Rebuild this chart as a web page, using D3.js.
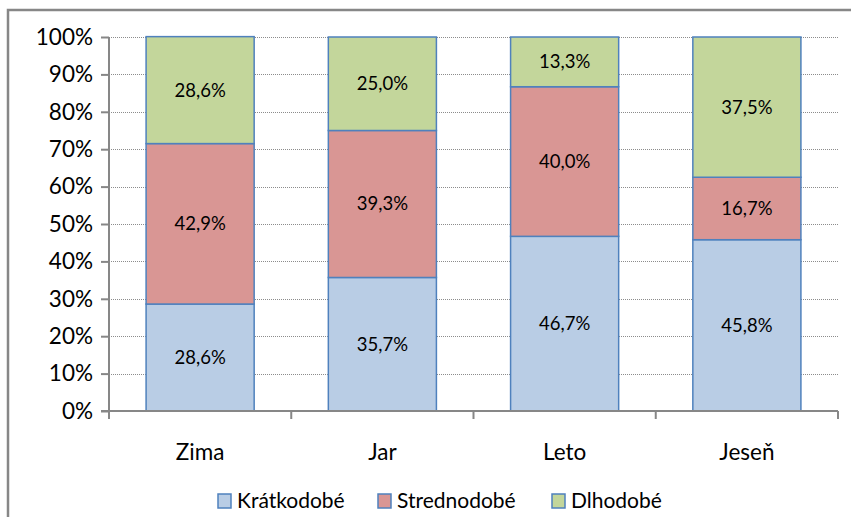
<!DOCTYPE html>
<html>
<head>
<meta charset="utf-8">
<script src="https://cdn.jsdelivr.net/npm/d3@7"></script>
<style>
  body { margin: 0; background: #fff; }
  svg text { font-family: Lato, "Open Sans", sans-serif; fill: #000; }
</style>
</head>
<body>
<div id="chart"></div>
<script>
var seasons = ["Zima", "Jar", "Leto", "Jeseň"];
var seriesNames = ["Krátkodobé", "Strednodobé", "Dlhodobé"];
var kratkodobe = [28.6, 35.7, 46.7, 45.8];
var strednodobe = [42.9, 39.3, 40.0, 16.7];
var dlhodobe = [28.6, 25.0, 13.3, 37.5];
var yTicks = [0, 10, 20, 30, 40, 50, 60, 70, 80, 90, 100];
var colors = ["#b9cde5", "#d99694", "#c3d69b"];

var width = 851, height = 517;
var margin = {top: 37, right: 13, bottom: 106, left: 109};

var svg = d3.select("#chart").append("svg")
    .attr("width", width)
    .attr("height", height);

// outer chart border
svg.append("rect")
    .attr("x", 8).attr("y", 10)
    .attr("width", width).attr("height", height)
    .attr("fill", "none")
    .attr("stroke", "#878787")
    .attr("stroke-width", 2.5);

var x = d3.scaleBand()
    .domain(seasons)
    .range([margin.left, width - margin.right]);

var y = d3.scaleLinear()
    .domain([0, 100])
    .range([height - margin.bottom, margin.top]);

// gridlines
svg.append("g")
    .selectAll("line")
    .data(yTicks.filter(function(d) { return d > 0; }))
    .enter().append("line")
    .attr("x1", margin.left)
    .attr("x2", width - margin.right)
    .attr("y1", function(d) { return Math.round(y(d)) + 0.5; })
    .attr("y2", function(d) { return Math.round(y(d)) + 0.5; })
    .attr("stroke", "#8c8c8c")
    .attr("stroke-width", 1)
    .attr("stroke-dasharray", "1,1");

var data = seasons.map(function(s, i) {
  return {season: s, "Krátkodobé": kratkodobe[i], "Strednodobé": strednodobe[i], "Dlhodobé": dlhodobe[i]};
});
var stacked = d3.stack().keys(seriesNames)(data);

var barW = x.bandwidth() * 0.593;

var layers = svg.append("g")
    .selectAll("g")
    .data(stacked)
    .enter().append("g")
    .attr("fill", function(d, i) { return colors[i]; });

layers.selectAll("rect")
    .data(function(d) { return d; })
    .enter().append("rect")
    .attr("x", function(d) { return x(d.data.season) + (x.bandwidth() - barW) / 2; })
    .attr("y", function(d) { return y(d[1]); })
    .attr("width", barW)
    .attr("height", function(d) { return y(d[0]) - y(d[1]); })
    .attr("stroke", "#4f81bd")
    .attr("stroke-width", 1.5);

layers.selectAll("text")
    .data(function(d) { return d; })
    .enter().append("text")
    .attr("x", function(d) { return x(d.data.season) + x.bandwidth() / 2; })
    .attr("y", function(d) { return (y(d[0]) + y(d[1])) / 2; })
    .attr("dy", "0.35em")
    .attr("text-anchor", "middle")
    .style("font-size", "18.5px")
    .style("fill", "#000")
    .text(function(d) { return (d[1] - d[0]).toFixed(1).replace(".", ",") + "%"; });

// y axis
var yAxis = svg.append("g")
    .attr("transform", "translate(" + margin.left + ",0)")
    .call(d3.axisLeft(y).tickValues(yTicks).tickSize(8).tickPadding(8)
        .tickFormat(function(d) { return d + "%"; }));
yAxis.selectAll("path, line").attr("stroke", "#878787").attr("stroke-width", 2);
yAxis.select(".domain").attr("d", "M0," + y(0) + "V" + y(100));
yAxis.selectAll("text").style("font-size", "22.5px").attr("font-family", null);

// x axis
var xAxis = svg.append("g")
    .attr("transform", "translate(0," + y(0) + ")");
xAxis.append("line")
    .attr("x1", margin.left - 8).attr("x2", width - margin.right)
    .attr("stroke", "#878787").attr("stroke-width", 2);
xAxis.selectAll(".tick-x")
    .data(seasons.concat([null]))
    .enter().append("line")
    .attr("class", "tick-x")
    .attr("x1", function(d, i) { return margin.left + i * x.step(); })
    .attr("x2", function(d, i) { return margin.left + i * x.step(); })
    .attr("y1", 0).attr("y2", 8)
    .attr("stroke", "#878787").attr("stroke-width", 2);
xAxis.selectAll(".label-x")
    .data(seasons)
    .enter().append("text")
    .attr("class", "label-x")
    .attr("x", function(d) { return x(d) + x.bandwidth() / 2; })
    .attr("y", 49)
    .attr("text-anchor", "middle")
    .style("font-size", "22.5px")
    .text(function(d) { return d; });

// legend
var legendX = [218, 378, 552];
var legend = svg.append("g")
    .selectAll("g")
    .data(seriesNames)
    .enter().append("g")
    .attr("transform", function(d, i) { return "translate(" + legendX[i] + ",494)"; });
legend.append("rect")
    .attr("width", 13).attr("height", 14)
    .attr("fill", function(d, i) { return colors[i]; })
    .attr("stroke", "#4f81bd")
    .attr("stroke-width", 1.5);
legend.append("text")
    .attr("x", 19).attr("y", 7)
    .attr("dy", "0.35em")
    .style("font-size", "21px")
    .text(function(d) { return d; });
</script>
</body>
</html>
